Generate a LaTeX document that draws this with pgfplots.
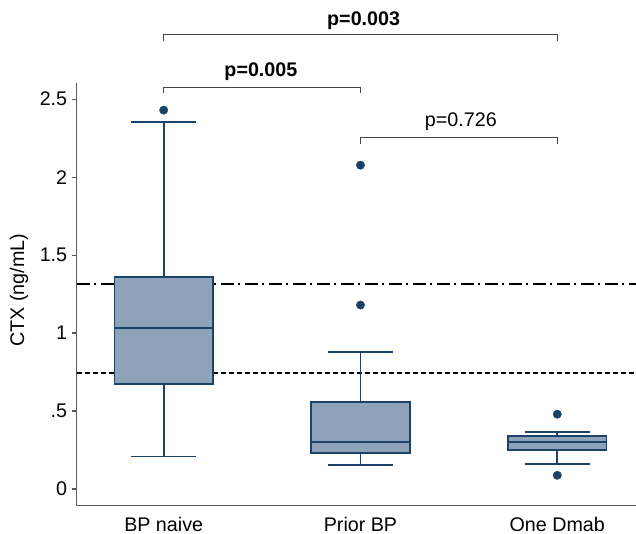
\documentclass[border=0pt]{standalone}
\usepackage{fontspec}
\setmainfont{Liberation Sans}
\usepackage{pgfplots}
\pgfplotsset{compat=1.18}
\usepgfplotslibrary{statistics}
\definecolor{boxfill}{RGB}{142,163,185}
\definecolor{boxedge}{RGB}{28,66,104}
\definecolor{axgray}{RGB}{90,90,90}
\definecolor{brgray}{RGB}{70,70,70}
\newcommand{\fs}{\fontsize{19.7}{23.6}\selectfont}
\begin{document}
\begin{tikzpicture}
\begin{axis}[
  name=ax,
  scale only axis,
  width=559.3pt, height=422.7pt,
  xmin=0.558, xmax=3.40,
  ymin=-0.107, ymax=2.604,
  axis lines*=left,
  axis line style={axgray, line width=1.3pt},
  clip=false,
  xtick={1,2,3},
  xticklabels={BP naive, Prior BP, One Dmab},
  xtick style={draw=none},
  ytick={0,0.5,1,1.5,2,2.5},
  yticklabels={0,.5,1,1.5,2,2.5},
  ytick style={axgray, line width=1.2pt},
  tick align=outside,
  major tick length=5pt,
  /pgf/number format/assume math mode=true,
  tick label style={font=\fs, black},
  yticklabel style={xshift=-1pt},
  xticklabel style={yshift=-3pt},
  ylabel={CTX (ng/mL)},
  ylabel style={font=\fs, at={(axis description cs:-0.103,0.51)}, anchor=center},
  boxplot/draw direction=y,
]
% reference lines
\addplot[black, line width=1.4pt, dash pattern=on 13pt off 4pt on 2.5pt off 4.5pt] coordinates {(0.558,1.314) (3.40,1.314)};
\addplot[black, line width=1.5pt, dash pattern=on 5pt off 3pt] coordinates {(0.558,0.743) (3.40,0.743)};
% boxes
\addplot[boxplot prepared={draw position=1, lower whisker=0.209, lower quartile=0.673, median=1.032, upper quartile=1.359, upper whisker=2.355, box extend=0.5, whisker extend=0.33},
  draw=boxedge, fill=boxfill, line width=1.8pt, mark=*, mark size=4.2pt, mark options={solid, draw=boxedge, fill=boxedge, line width=0.4pt}]
  coordinates {(0,2.43)};
\addplot[boxplot prepared={draw position=2, lower whisker=0.152, lower quartile=0.231, median=0.304, upper quartile=0.559, upper whisker=0.88, box extend=0.5, whisker extend=0.33},
  draw=boxedge, fill=boxfill, line width=1.8pt, mark=*, mark size=4.2pt, mark options={solid, draw=boxedge, fill=boxedge, line width=0.4pt}]
  coordinates {(0,1.18) (0,2.077)};
\addplot[boxplot prepared={draw position=3, lower whisker=0.162, lower quartile=0.248, median=0.302, upper quartile=0.342, upper whisker=0.368, box extend=0.5, whisker extend=0.33},
  draw=boxedge, fill=boxfill, line width=1.8pt, mark=*, mark size=4.2pt, mark options={solid, draw=boxedge, fill=boxedge, line width=0.4pt}]
  coordinates {(0,0.48) (0,0.088)};
% significance brackets
\draw[brgray, line width=1.3pt] (axis cs:1,2.874) -- (axis cs:1,2.915) -- (axis cs:3,2.915) -- (axis cs:3,2.874);
\draw[brgray, line width=1.3pt] (axis cs:1,2.540) -- (axis cs:1,2.577) -- (axis cs:2,2.577) -- (axis cs:2,2.540);
\draw[brgray, line width=1.3pt] (axis cs:2,2.213) -- (axis cs:2,2.253) -- (axis cs:3,2.253) -- (axis cs:3,2.213);
\node[anchor=base, font=\fs\bfseries, inner sep=0pt] at (axis cs:2.016,2.970) {p=0.003};
\node[anchor=base, font=\fs\bfseries, inner sep=0pt] at (axis cs:1.494,2.643) {p=0.005};
\node[anchor=base, font=\fs, inner sep=0pt] at (axis cs:2.51,2.324) {p=0.726};
\end{axis}
\pgfresetboundingbox
\path[use as bounding box] ([xshift=-76.7pt,yshift=-28.3pt]ax.south west) rectangle ([yshift=83pt]ax.north east);
\end{tikzpicture}
\end{document}
